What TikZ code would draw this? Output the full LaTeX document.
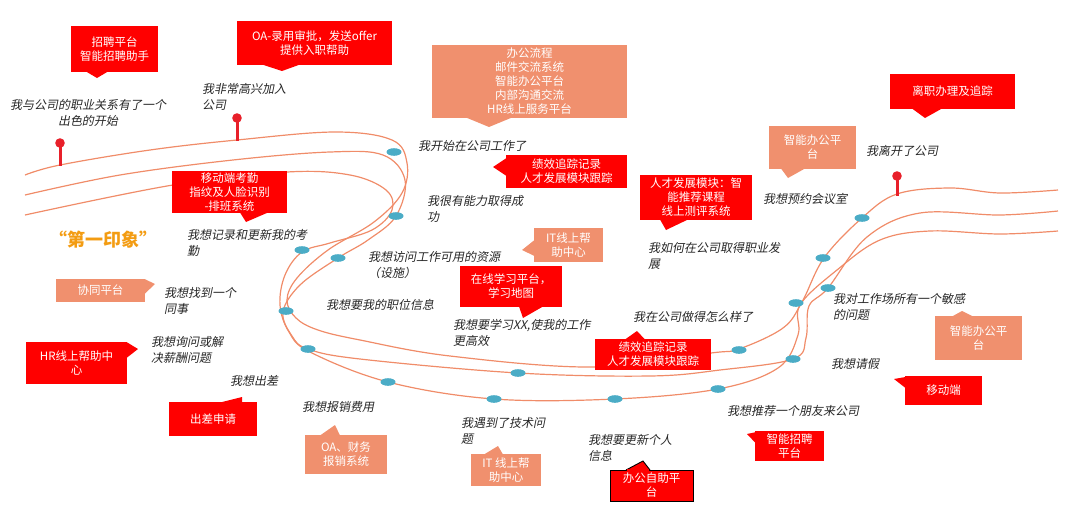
\documentclass[tikz,border=0pt]{standalone}
\usepackage{fontspec}
\setmainfont{Noto Sans CJK SC}
\newfontfamily\cjk{Noto Sans CJK SC}
\newfontfamily\cjkit[FakeSlant=0.2]{Noto Sans CJK SC}
\usetikzlibrary{calc}
\definecolor{boxred}{RGB}{255,0,0}
\definecolor{boxsalmon}{RGB}{240,144,110}
\definecolor{roadline}{RGB}{240,140,105}
\definecolor{dotblue}{RGB}{75,172,198}
\definecolor{pinred}{RGB}{232,32,42}
\definecolor{txtdark}{RGB}{38,38,38}
\definecolor{firstorange}{RGB}{243,156,18}
\tikzset{
  x=1pt, y=-1pt,
  road/.style={draw=roadline, line width=1.2pt},
  blipdot/.style={fill=dotblue, draw=none},
  redbox/.style={fill=boxred, draw=none, text=white, align=center, inner sep=0pt,
     font=\cjk\fontsize{11.5}{14}\selectfont},
  salbox/.style={fill=boxsalmon, draw=none, text=white, align=center, inner sep=0pt,
     font=\cjk\fontsize{11.5}{14}\selectfont},
  redtip/.style={fill=boxred, draw=none},
  saltip/.style={fill=boxsalmon, draw=none},
  say/.style={text=txtdark, align=left, anchor=west, inner sep=0pt,
     font=\cjkit\fontsize{12}{15.5}\selectfont},
  pinstem/.style={draw=pinred, line width=3pt},
  pinhead/.style={fill=pinred, draw=none},
}
\begin{document}
\begin{tikzpicture}
\useasboundingbox (0,0) rectangle (1080,514);
% ---------- road lines ----------
\draw[road] plot[smooth, tension=0.6] coordinates {
 (25,175) (60,165) (150,150) (237,140) (335,132) (392,140) (407,163) (402,193)
 (374,222) (328,250) (297,278) (287,300) (296,318) (318,330) (360,340) (450,356) (593,367)
 (711,353) (739,349) (783,328) (802,302) (824,258) (862,218) (897,194) (950,188)
 (1000,193) (1058,190)};
\draw[road] plot[smooth, tension=0.6] coordinates {
 (25,195) (120,175) (233,160) (330,152) (383,155) (405,180) (396,216) (368,240)
 (338,258) (300,285) (283,312) (292,336) (308,349) (360,359) (518,373) (650,376)
 (720,370) (793,359) (806,338) (809,306) (828,288) (867,237) (920,213) (1000,215)
 (1058,211)};
\draw[road] plot[smooth, tension=0.6] coordinates {
 (25,215) (173,185) (287,172) (350,175) (386,190) (392,210) (372,230) (330,243)
 (302,252) (285,275) (280,305) (289,332) (310,352) (388,382) (494,399) (615,399)
 (718,389) (778,368) (798,335) (800,305) (837,270) (880,240) (930,231) (1000,234)
 (1058,231)};
% ---------- blue blips ----------
\foreach \p in {(394,152),(396,216),(302,250),(338,258),(286,311),(308,349),(388,382),
  (518,373),(494,399),(615,399),(718,389),(739,350),(793,359),(796,303),(823,258),
  (828,288),(862,218)}
  \fill[blipdot] \p ellipse [x radius=7.5, y radius=3.8];
% ---------- pins ----------
\coordinate (pinA) at (60,143); \coordinate (pinAb) at (60,166);
\coordinate (pinB) at (237,118); \coordinate (pinBb) at (237,141);
\coordinate (pinC) at (897,176); \coordinate (pinCb) at (897,196);
\draw[pinstem] (pinA) -- (pinAb);
\draw[pinstem] (pinB) -- (pinBb);
\draw[pinstem] (pinC) -- (pinCb);
\fill[pinhead] (pinA) circle (4.8);
\fill[pinhead] (pinB) circle (4.8);
\fill[pinhead] (pinC) circle (4.8);
% ---------- callout boxes ----------
\node[redbox, minimum width=87, minimum height=46] (b1) at (114.5,49) {招聘平台\\智能招聘助手};
\fill[redtip] (86,71.5) -- (97,78) -- (108,71.5) -- cycle;
\node[redbox, minimum width=155, minimum height=44] (b2) at (314.5,43) {OA-录用审批，发送offer\\提供入职帮助};
\fill[redtip] (262,64.5) -- (282,71) -- (300,64.5) -- cycle;
\node[salbox, minimum width=195, minimum height=73] (b3) at (529.5,81.5) {办公流程\\邮件交流系统\\智能办公平台\\内部沟通交流\\HR线上服务平台};
\fill[saltip] (466,117.5) -- (489,127) -- (512,117.5) -- cycle;
\node[redbox, minimum width=125, minimum height=35] (b4) at (952.5,91.5) {离职办理及追踪};
\fill[redtip] (912,108.5) -- (925,118) -- (942,108.5) -- cycle;
\node[salbox, minimum width=87, minimum height=43] (b5) at (812.5,147.5) {智能办公平\\台};
\fill[saltip] (781,168.5) -- (788,178) -- (805,168.5) -- cycle;
\node[redbox, minimum width=121, minimum height=33] (b6) at (566.5,171.5) {绩效追踪记录\\人才发展模块跟踪};
\fill[redtip] (506.5,158) -- (493,167) -- (506.5,176) -- cycle;
\node[redbox, minimum width=112, minimum height=45] (b7) at (696,197.5) {人才发展模块：智\\能推荐课程\\线上测评系统};
\fill[redtip] (660,219.5) -- (666,230) -- (688,219.5) -- cycle;
\node[salbox, minimum width=69, minimum height=34] (b8) at (568.5,245) {IT线上帮\\助中心};
\fill[saltip] (534.5,240) -- (522,250) -- (534.5,256) -- cycle;
\node[redbox, minimum width=102, minimum height=41] (b9) at (511,286.5) {在线学习平台，\\学习地图};
\fill[redtip] (519,306.5) -- (523,318) -- (543,306.5) -- cycle;
\node[redbox, minimum width=115, minimum height=42] (b10) at (229.5,192) {移动端考勤\\指纹及人脸识别\\-排班系统};
\fill[redtip] (240,212.5) -- (246,222) -- (268,212.5) -- cycle;
\node[salbox, minimum width=89, minimum height=23] (b11) at (100.5,290.5) {协同平台};
\fill[saltip] (144.5,279) -- (155,284) -- (144.5,294) -- cycle;
\node[redbox, minimum width=101, minimum height=42] (b12) at (76.5,363) {HR线上帮助中\\心};
\fill[redtip] (126.5,342) -- (138,349) -- (126.5,358) -- cycle;
\node[redbox, minimum width=88, minimum height=34] (b13) at (213,419) {出差申请};
\fill[redtip] (220,402.5) -- (242,397) -- (242,402.5) -- cycle;
\node[salbox, minimum width=82, minimum height=39] (b14) at (346,454.5) {OA、财务\\报销系统};
\fill[saltip] (320,435.5) -- (335,425) -- (340,435.5) -- cycle;
\node[salbox, minimum width=70, minimum height=32] (b15) at (506,470) {IT 线上帮\\助中心};
\fill[saltip] (484,454.5) -- (498,446) -- (503,454.5) -- cycle;
\node[redbox, draw=black, line width=0.9pt, minimum width=83, minimum height=31] (b16) at (651.5,485.5) {办公自助平\\台};
\filldraw[fill=boxred, draw=black, line width=0.9pt] (626,470) -- (643,461) -- (650,470);
\fill[boxred] (626.8,469.2) rectangle (649.2,471.2);
\node[redbox, minimum width=116, minimum height=31] (b17) at (653,354.5) {绩效追踪记录\\人才发展模块跟踪};
\fill[redtip] (625,339.5) -- (637,331) -- (645,339.5) -- cycle;
\node[salbox, minimum width=87, minimum height=44] (b18) at (978.5,338) {智能办公平\\台};
\fill[saltip] (952,316.5) -- (962,311) -- (973,316.5) -- cycle;
\node[redbox, minimum width=77, minimum height=29] (b19) at (943.5,390.5) {移动端};
\fill[redtip] (905.5,377) -- (894,379) -- (905.5,388) -- cycle;
\node[redbox, minimum width=69, minimum height=30] (b20) at (789.5,446) {智能招聘\\平台};
\fill[redtip] (756.5,432) -- (747,434) -- (756.5,444) -- cycle;
% ---------- statements ----------
\node[say, align=center, anchor=center] (t1) at (88,113) {我与公司的职业关系有了一个\\出色的开始};
\node[say] (t2) at (202,97) {我非常高兴加入\\公司};
\node[say] (t3) at (418,146) {我开始在公司工作了};
\node[say] (t4) at (427,209) {我很有能力取得成\\功};
\node[say] (t5) at (368,265) {我想访问工作可用的资源\\（设施）};
\node[say] (t6) at (326,305) {我想要我的职位信息};
\node[say] (t7) at (453,333) {我想要学习XX,使我的工作\\更高效};
\node[say] (t8) at (648,256) {我如何在公司取得职业发\\展};
\node[say] (t9) at (763,199) {我想预约会议室};
\node[say] (t10) at (866,151) {我离开了公司};
\node[say] (t11) at (633,317) {我在公司做得怎么样了};
\node[say] (t12) at (833,307) {我对工作场所有一个敏感\\的问题};
\node[say] (t13) at (831,364) {我想请假};
\node[say] (t14) at (727,411) {我想推荐一个朋友来公司};
\node[say] (t15) at (588,448) {我想要更新个人\\信息};
\node[say] (t16) at (461,431) {我遇到了技术问\\题};
\node[say] (t17) at (302,407) {我想报销费用};
\node[say] (t18) at (230,381) {我想出差};
\node[say] (t19) at (151,350) {我想询问或解\\决薪酬问题};
\node[say] (t20) at (164,301) {我想找到一个\\同事};
\node[say] (t21) at (187,243) {我想记录和更新我的考\\勤};
\node[anchor=west, inner sep=0pt, text=firstorange, font=\cjk\bfseries\fontsize{18}{20}\selectfont] (t22) at (49,240) {“第一印象”};
\end{tikzpicture}
\end{document}
